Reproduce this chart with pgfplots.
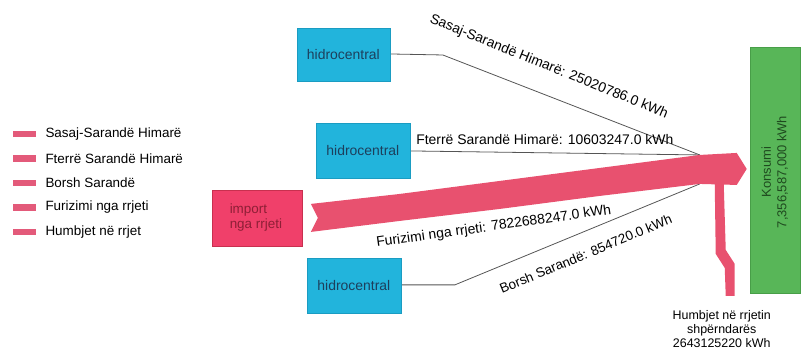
\documentclass[border=0pt]{standalone}
\usepackage{pgfplots}
\pgfplotsset{compat=1.18}
\usepackage{fontspec}
\setmainfont{Liberation Sans}

\definecolor{hidro}{HTML}{22B4DC}
\definecolor{hidroedge}{HTML}{1A9CC2}
\definecolor{hidrotxt}{HTML}{1D3F5C}
\definecolor{importbox}{HTML}{F0406A}
\definecolor{importedge}{HTML}{C8304F}
\definecolor{importtxt}{HTML}{8E1F36}
\definecolor{band}{HTML}{E8516F}
\definecolor{konsumi}{HTML}{58B658}
\definecolor{konsumiedge}{HTML}{489E48}
\definecolor{konsumitxt}{HTML}{1F4A1F}
\definecolor{swatch}{HTML}{E35A7A}
\definecolor{lbl}{HTML}{3A3A3A}
\definecolor{ln}{HTML}{555555}

\begin{document}
\begin{tikzpicture}
\begin{axis}[
    width=801bp, height=356bp, scale only axis,
    xmin=0, xmax=801, ymin=0, ymax=356,
    y dir=reverse,
    hide axis, clip=false,
    every node/.style={text=lbl, inner sep=0pt},
]
% keep the full canvas in the bounding box
\addplot[draw=none, forget plot] coordinates {(0,0) (801,356)};

% legend
\addplot[fill=swatch, draw=none] coordinates {(13,131) (36,131) (36,137.5) (13,137.5)} --cycle;
\addplot[fill=swatch, draw=none] coordinates {(13,155.5) (36,155.5) (36,162) (13,162)} --cycle;
\addplot[fill=swatch, draw=none] coordinates {(13,180) (36,180) (36,186.5) (13,186.5)} --cycle;
\addplot[fill=swatch, draw=none] coordinates {(13,204.5) (36,204.5) (36,211) (13,211)} --cycle;
\addplot[fill=swatch, draw=none] coordinates {(13,229) (36,229) (36,235.5) (13,235.5)} --cycle;
\node[anchor=west, font=\fontsize{13.5}{15}\selectfont] at (42,134) {Sasaj-Sarandë Himarë};
\node[anchor=west, font=\fontsize{13.5}{15}\selectfont] at (42,158.5) {Fterrë Sarandë Himarë};
\node[anchor=west, font=\fontsize{13.5}{15}\selectfont] at (42,183) {Borsh Sarandë};
\node[anchor=west, font=\fontsize{13.5}{15}\selectfont] at (42,207.5) {Furizimi nga rrjeti};
\node[anchor=west, font=\fontsize{13.5}{15}\selectfont] at (42,232) {Humbjet në rrjet};

% connecting lines
\addplot[ln, line width=0.8pt] coordinates {(391,54) (443,55) (700,155)};
\addplot[ln, line width=0.8pt] coordinates {(411,151) (700,155)};
\addplot[ln, line width=0.8pt] coordinates {(402,285) (455,285) (700,184)};

% main band
\addplot[fill=band, draw=none] coordinates {
    (311,204) (400,194) (500,181) (600,168) (700,155) (737,153)
    (747,169) (737,185) (700,184) (600,196) (500,209) (400,221)
    (311,232) (318,218)} --cycle;
% losses branch
\addplot[fill=band, draw=none] coordinates {
    (715,184) (724,184) (726,250) (735,264) (735,296) (726,296) (725,268) (716,254)} --cycle;

% boxes
\addplot[fill=hidro, draw=hidroedge, line width=0.6pt] coordinates {(297,28) (390,28) (390,81) (297,81)} --cycle;
\addplot[fill=hidro, draw=hidroedge, line width=0.6pt] coordinates {(316,123) (410,123) (410,178) (316,178)} --cycle;
\addplot[fill=hidro, draw=hidroedge, line width=0.6pt] coordinates {(307,258) (401,258) (401,313) (307,313)} --cycle;
\addplot[fill=importbox, draw=importedge, line width=0.8pt] coordinates {(212,190) (303,190) (303,246) (212,246)} --cycle;
\addplot[fill=konsumi, draw=konsumiedge, line width=0.6pt] coordinates {(751,47) (801,47) (801,293) (751,293)} --cycle;

% box texts
\node[text=hidrotxt, font=\fontsize{14}{15}\selectfont] at (343.5,54.5) {hidrocentral};
\node[text=hidrotxt, font=\fontsize{14}{15}\selectfont] at (363,150.5) {hidrocentral};
\node[text=hidrotxt, font=\fontsize{14}{15}\selectfont] at (354,285.5) {hidrocentral};
\node[text=importtxt, align=left, font=\fontsize{13.5}{15}\selectfont] at (256,218) {import\\nga rrjeti};
\node[text=konsumitxt, rotate=90, align=center, font=\fontsize{13}{15.5}\selectfont] at (775,172) {Konsumi\\7,356,587,000 kWh};

% flow labels
\node[rotate=-22, font=\fontsize{14}{16}\selectfont] at (549,67) {Sasaj-Sarandë Himarë: 25020786.0 kWh};
\node[font=\fontsize{14}{16}\selectfont] at (545,140) {Fterrë Sarandë Himarë: 10603247.0 kWh};
\node[rotate=8, font=\fontsize{14}{16}\selectfont] at (494,227) {Furizimi nga rrjeti: 7822688247.0 kWh};
\node[rotate=22.6, font=\fontsize{13.5}{16}\selectfont] at (586,254) {Borsh Sarandë: 854720.0 kWh};
\node[align=center, font=\fontsize{12.5}{14}\selectfont] at (722,329) {Humbjet në rrjetin\\shpërndarës\\2643125220 kWh};
\end{axis}
\end{tikzpicture}
\end{document}
